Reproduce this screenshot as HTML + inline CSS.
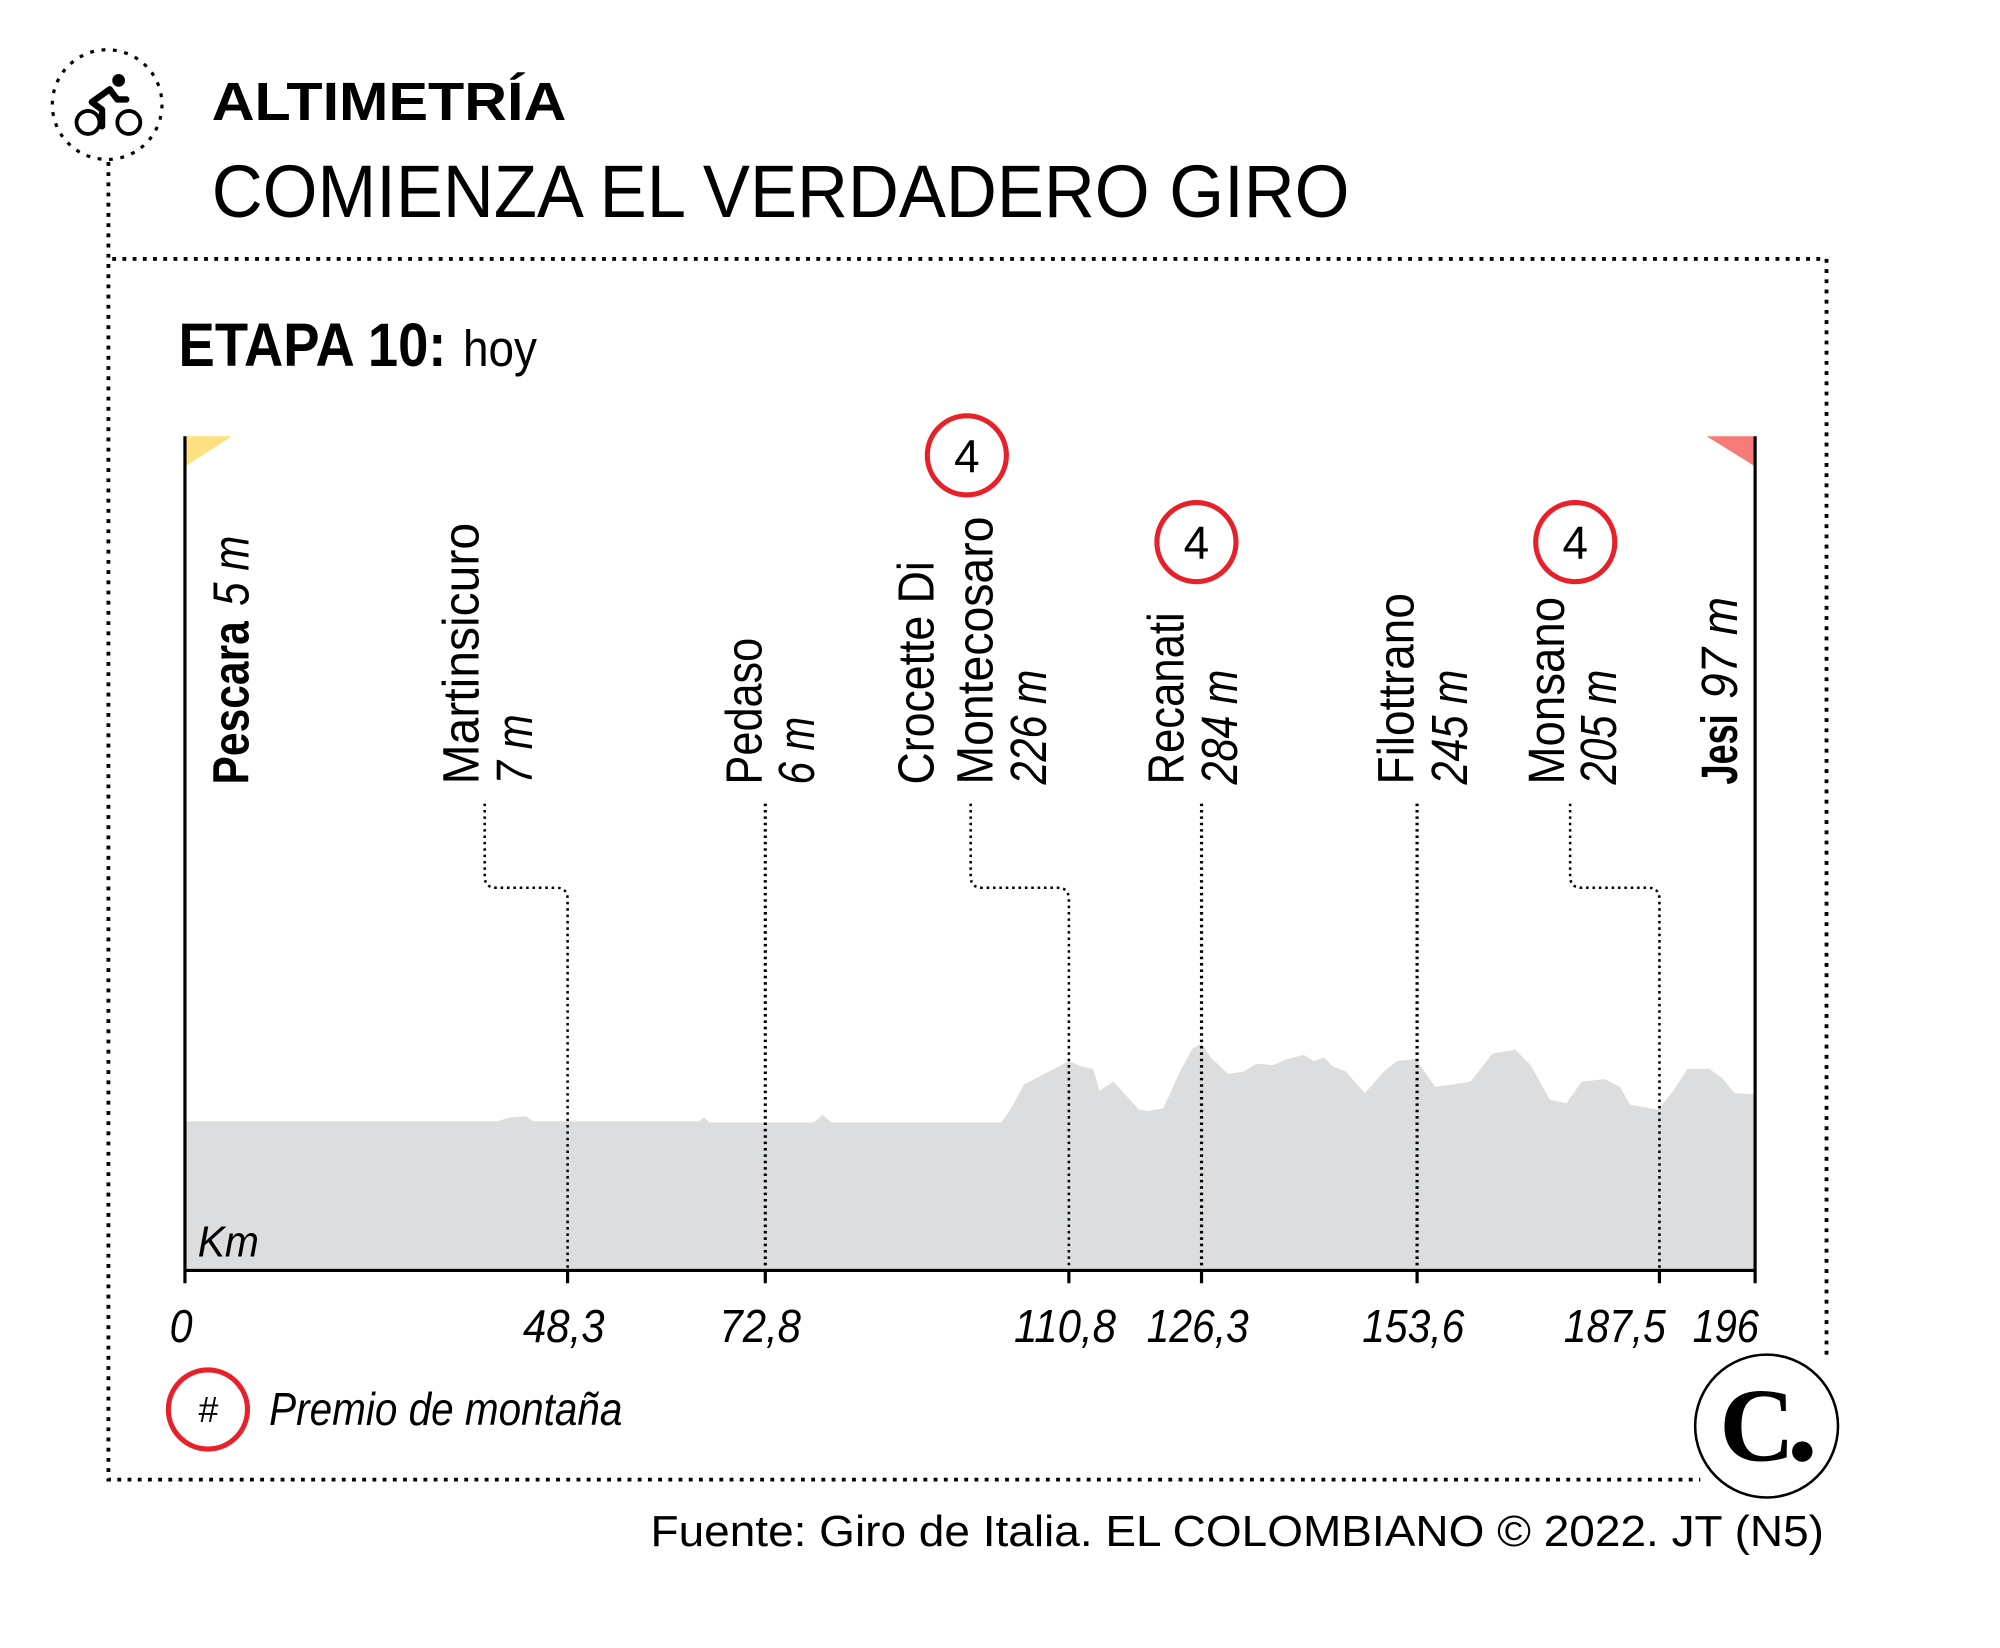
<!DOCTYPE html>
<html><head><meta charset="utf-8"><style>html,body{margin:0;padding:0;background:#fff}svg{display:block}</style></head>
<body>
<svg width="2000" height="1648" viewBox="0 0 1568 1292" preserveAspectRatio="none" xmlns="http://www.w3.org/2000/svg" font-family="Liberation Sans, sans-serif">
<rect width="1600" height="1300" fill="#fff"/>
<!-- icon -->
<circle cx="84" cy="82" r="43" fill="none" stroke="#000" stroke-width="2.5" stroke-dasharray="3,6"/>
<circle cx="69" cy="96" r="9" fill="none" stroke="#000" stroke-width="3"/>
<circle cx="101" cy="96" r="9" fill="none" stroke="#000" stroke-width="3"/>
<circle cx="93" cy="63" r="5" fill="#000"/>
<path d="M80 99 L80 86 L72 80 L86 70 L92 78 L99 78" fill="none" stroke="#000" stroke-width="5" stroke-linejoin="round" stroke-linecap="round"/>
<!-- frame -->
<g fill="none" stroke="#000" stroke-width="3" stroke-dasharray="3,5">
<path d="M85 127 L85 1160 L1333 1160"/>
<path d="M88 203 L1432 203 L1432 1062"/>
</g>
<text x="166" y="94" font-size="42" font-weight="bold" textLength="278" lengthAdjust="spacingAndGlyphs">ALTIMETRÍA</text>
<text x="166" y="170" font-size="58" textLength="892" lengthAdjust="spacingAndGlyphs">COMIENZA EL VERDADERO GIRO</text>
<text x="140" y="287" font-size="48" font-weight="bold" textLength="210" lengthAdjust="spacingAndGlyphs">ETAPA 10:</text>
<text x="363" y="287" font-size="40" textLength="58" lengthAdjust="spacingAndGlyphs">hoy</text>
<!-- profile -->
<path fill="#dcdddf" d="M145 996 L145 879 L390 879 L400 876 L412 875 L418 879 L548 879 L552 876 L556 880 L638 880 L645 874 L652 880 L785 880 L792 870 L803 850 L838 832 L848 836 L857 838 L862 855 L873 848 L893 870 L900 871 L912 869 L925 840 L935 822 L942 818 L950 830 L963 842 L975 840 L985 834 L998 835 L1010 830 L1022 827 L1030 832 L1038 829 L1045 836 L1055 840 L1070 857 L1085 840 L1095 832 L1110 830 L1125 852 L1140 850 L1153 848 L1170 826 L1188 823 L1200 835 L1215 862 L1228 865 L1240 848 L1258 846 L1270 852 L1278 866 L1300 870 L1312 855 L1323 838 L1340 838 L1350 845 L1360 857 L1376 858 L1376 996 Z"/>
<!-- flags -->
<path d="M146 342 L182 342 L146 365 Z" fill="#fde07f"/>
<path d="M1375 342 L1338 342 L1375 365 Z" fill="#f67b77"/>
<!-- dotted guides -->
<g fill="none" stroke="#000" stroke-width="2" stroke-dasharray="2,3">
<path d="M380 630 L380 687 Q380 696 389 696 L436 696 Q445 696 445 705 L445 996"/>
<path d="M600 630 L600 996" stroke-width="2.5"/>
<path d="M761 630 L761 687 Q761 696 770 696 L829 696 Q838 696 838 705 L838 996"/>
<path d="M942 630 L942 996" stroke-width="2.5"/>
<path d="M1111 630 L1111 996" stroke-width="2.5"/>
<path d="M1231 630 L1231 687 Q1231 696 1240 696 L1292 696 Q1301 696 1301 705 L1301 996"/>
</g>
<!-- axes -->
<g stroke="#000" stroke-width="2.5" fill="none">
<path d="M145 342 L145 1006 M1376 342 L1376 1006 M145 996 L1376 996"/>
<path d="M445 996 V1006 M600 996 V1006 M838 996 V1006 M942 996 V1006 M1111 996 V1006 M1301 996 V1006"/>
</g>
<text x="155" y="985" font-size="34" font-style="italic" textLength="48" lengthAdjust="spacingAndGlyphs">Km</text>
<g font-size="36" font-style="italic" text-anchor="middle">
<text x="142" y="1052" textLength="18" lengthAdjust="spacingAndGlyphs">0</text>
<text x="442" y="1052" textLength="64" lengthAdjust="spacingAndGlyphs">48,3</text>
<text x="596" y="1052" textLength="64" lengthAdjust="spacingAndGlyphs">72,8</text>
<text x="835" y="1052" textLength="80" lengthAdjust="spacingAndGlyphs">110,8</text>
<text x="939" y="1052" textLength="80" lengthAdjust="spacingAndGlyphs">126,3</text>
<text x="1108" y="1052" textLength="80" lengthAdjust="spacingAndGlyphs">153,6</text>
<text x="1266" y="1052" textLength="80" lengthAdjust="spacingAndGlyphs">187,5</text>
<text x="1353" y="1052" textLength="52" lengthAdjust="spacingAndGlyphs">196</text>
</g>
<!-- vertical labels -->
<g font-size="40">
<text transform="translate(195,615) rotate(-90)"><tspan font-weight="bold" textLength="128" lengthAdjust="spacingAndGlyphs">Pescara</tspan><tspan font-style="italic" dx="12" textLength="55" lengthAdjust="spacingAndGlyphs">5 m</tspan></text>
<text transform="translate(375,615) rotate(-90)" textLength="205" lengthAdjust="spacingAndGlyphs">Martinsicuro</text>
<text transform="translate(417,615) rotate(-90)" font-style="italic" textLength="55" lengthAdjust="spacingAndGlyphs">7 m</text>
<text transform="translate(597,615) rotate(-90)" textLength="115" lengthAdjust="spacingAndGlyphs">Pedaso</text>
<text transform="translate(638,615) rotate(-90)" font-style="italic" textLength="53" lengthAdjust="spacingAndGlyphs">6 m</text>
<text transform="translate(732,615) rotate(-90)" textLength="175" lengthAdjust="spacingAndGlyphs">Crocette Di</text>
<text transform="translate(778,615) rotate(-90)" textLength="210" lengthAdjust="spacingAndGlyphs">Montecosaro</text>
<text transform="translate(820,615) rotate(-90)" font-style="italic" textLength="90" lengthAdjust="spacingAndGlyphs">226 m</text>
<text transform="translate(928,615) rotate(-90)" textLength="135" lengthAdjust="spacingAndGlyphs">Recanati</text>
<text transform="translate(970,615) rotate(-90)" font-style="italic" textLength="90" lengthAdjust="spacingAndGlyphs">284 m</text>
<text transform="translate(1108,615) rotate(-90)" textLength="150" lengthAdjust="spacingAndGlyphs">Filottrano</text>
<text transform="translate(1150,615) rotate(-90)" font-style="italic" textLength="90" lengthAdjust="spacingAndGlyphs">245 m</text>
<text transform="translate(1226,615) rotate(-90)" textLength="147" lengthAdjust="spacingAndGlyphs">Monsano</text>
<text transform="translate(1267,615) rotate(-90)" font-style="italic" textLength="90" lengthAdjust="spacingAndGlyphs">205 m</text>
<text transform="translate(1362,615) rotate(-90)"><tspan font-weight="bold" textLength="55" lengthAdjust="spacingAndGlyphs">Jesi</tspan><tspan font-style="italic" dx="12" textLength="80" lengthAdjust="spacingAndGlyphs">97 m</tspan></text>
</g>
<!-- mountain circles -->
<g fill="#fff" stroke="#e8202a" stroke-width="4">
<circle cx="758" cy="357" r="31"/>
<circle cx="938" cy="425" r="31"/>
<circle cx="1235" cy="425" r="31"/>
<circle cx="163" cy="1105" r="31"/>
</g>
<g font-size="36" text-anchor="middle">
<text x="758" y="370" textLength="20" lengthAdjust="spacingAndGlyphs">4</text>
<text x="938" y="438" textLength="20" lengthAdjust="spacingAndGlyphs">4</text>
<text x="1235" y="438" textLength="20" lengthAdjust="spacingAndGlyphs">4</text>
<text x="163" y="1115" font-size="28" font-style="italic">#</text>
</g>
<text x="211" y="1117" font-size="36" font-style="italic" textLength="277" lengthAdjust="spacingAndGlyphs">Premio de montaña</text>
<!-- logo -->
<circle cx="1385" cy="1118" r="56" fill="#fff" stroke="#000" stroke-width="2"/>
<text x="1348" y="1145" font-family="Liberation Serif, serif" font-weight="bold" font-size="82">C</text>
<circle cx="1413" cy="1138" r="8" fill="#000"/>
<text x="1430" y="1212" font-size="34" text-anchor="end" textLength="920" lengthAdjust="spacingAndGlyphs">Fuente: Giro de Italia. EL COLOMBIANO © 2022. JT (N5)</text>
</svg>
</body></html>
